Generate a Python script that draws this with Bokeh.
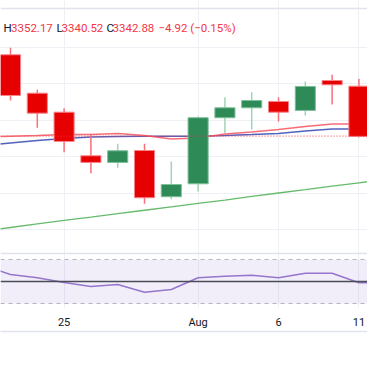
from bokeh.plotting import figure
from bokeh.models import Range1d, FixedTicker, Span, BoxAnnotation, Label, LinearAxis, ColumnDataSource
from bokeh.embed import file_html
from bokeh.resources import INLINE

# ---- data ----
dates = ["Jul 23", "Jul 24", "Jul 25", "Jul 28", "Jul 29", "Jul 30", "Jul 31", "Aug 1",
         "Aug 4", "Aug 5", "Aug 6", "Aug 7", "Aug 8", "Aug 11", "Aug 12"]
open_ = [3432.0, 3389.9, 3369.1, 3321.3, 3314.0, 3327.1, 3276.4, 3290.6,
         3363.0, 3373.9, 3380.8, 3371.0, 3403.8, 3397.6, 3342.8]
high = [3439.7, 3393.6, 3373.5, 3345.4, 3334.5, 3334.5, 3315.1, 3364.4,
        3385.5, 3391.0, 3385.5, 3402.7, 3410.1, 3405.7, 3352.17]
low = [3381.9, 3352.0, 3325.2, 3302.2, 3308.2, 3268.7, 3273.7, 3282.2,
       3346.1, 3350.1, 3358.9, 3365.5, 3377.5, 3341.4, 3340.52]
close = [3387.4, 3368.0, 3337.0, 3314.0, 3326.8, 3275.3, 3289.8, 3363.0,
         3373.9, 3381.9, 3369.1, 3397.3, 3399.1, 3342.5, 3347.5]

ma_dates = ["Jul 22"] + dates
ma_red = [3341.9, 3342.8, 3343.6, 3344.6, 3344.6, 3345.7, 3343.6, 3339.7, 3340.8,
          3345.2, 3347.4, 3350.1, 3353.4, 3356.2, 3356.2, 3351.8]
ma_blue = [3332.6, 3335.3, 3338.1, 3340.3, 3341.9, 3342.5, 3342.7, 3342.8, 3342.8,
           3343.6, 3344.6, 3345.7, 3348.5, 3350.7, 3350.7, 3348.0]
ma_green = [3238.9, 3242.7, 3246.6, 3250.4, 3254.0, 3257.8, 3261.6, 3265.4, 3269.2,
            3272.8, 3276.7, 3280.5, 3284.1, 3288.0, 3291.7, 3295.5]
rsi = [64.5, 56.4, 53.4, 49.1, 45.5, 47.3, 40.3, 42.7, 53.4,
       54.8, 55.7, 53.4, 57.5, 57.5, 48.8, 49.1]

rsi_upper, rsi_mid, rsi_lower = 70, 50, 30
last_price = 3342.88
grid_prices = [3240, 3280, 3320, 3360, 3400, 3440]
tick_labels = {"Jul 25": "25", "Aug 1": "Aug", "Aug 6": "6", "Aug 11": "11"}

header = [("H", "#131722", 3), ("3352.17", "#f23645", 10.5),
          ("L", "#131722", 56), ("3340.52", "#f23645", 61),
          ("C", "#131722", 106), ("3342.88", "#f23645", 112),
          ("\u22124.92 (\u22120.15%)", "#f23645", 158)]

# ---- derived ----
xs = list(range(len(dates)))
ma_x = [i - 1 for i in range(len(ma_dates))]
RED, GREEN = "#e60000", "#2e8b57"
up = [c >= o for o, c in zip(open_, close)]
src = ColumnDataSource(dict(
    x=xs, high=high, low=low,
    top=[max(o, c) for o, c in zip(open_, close)],
    bottom=[min(o, c) for o, c in zip(open_, close)],
    fill=[GREEN if u else RED for u in up],
    edge=["#7fbf9a" if u else "#f7838a" for u in up],
    wick=["#a3d3b5" if u else "#f7707a" for u in up],
))

p = figure(width=367, height=358, output_backend="svg", toolbar_location=None,
           x_range=Range1d(-0.373, 13.32), y_range=Range1d(3153.9, 3491.5),
           y_axis_location=None,
           min_border_left=0, min_border_right=0, min_border_top=0, min_border_bottom=50)
p.extra_y_ranges = {"rsi": Range1d(25.45, 305.45)}
p.outline_line_color = None
p.background_fill_color = "white"
p.border_fill_color = "white"

ticks = [dates.index(d) for d in tick_labels]
p.xgrid.ticker = FixedTicker(ticks=ticks)
p.ygrid.ticker = FixedTicker(ticks=grid_prices)
p.xgrid.grid_line_color = "#eef0f5"
p.ygrid.grid_line_color = "#eef0f5"

ax = p.xaxis[0]
ax.ticker = FixedTicker(ticks=ticks)
ax.major_label_overrides = {dates.index(d): lab for d, lab in tick_labels.items()}
ax.major_label_text_font = "Roboto"
ax.major_label_text_font_size = "11px"
ax.major_label_text_color = "#131722"
ax.major_tick_line_color = None
ax.minor_tick_line_color = None
ax.axis_line_color = None
ax.major_label_standoff = 1

ax2 = LinearAxis(ticker=FixedTicker(ticks=[]), axis_line_color="#e0e3eb", axis_line_width=1.5,
                 major_tick_line_color=None, minor_tick_line_color=None,
                 major_label_text_font_size="0px")
p.add_layout(ax2, "below")

# RSI pane
p.add_layout(BoxAnnotation(bottom=rsi_lower, top=rsi_upper, y_range_name="rsi",
                           fill_color="#7e57c2", fill_alpha=0.1, line_color=None, level="underlay"))
for lv in (rsi_upper, rsi_lower):
    p.add_layout(Span(location=lv, dimension="width", y_range_name="rsi",
                      line_color="#b2b5be", line_dash="4 4", line_width=1))
p.add_layout(Span(location=rsi_mid, dimension="width", y_range_name="rsi",
                  line_color="#4a4b55", line_width=1.5))
p.line(ma_x, rsi, y_range_name="rsi", line_color="#9575cd", line_width=1.5)

# pane separator and top border
p.add_layout(Span(location=rsi_upper + 5.45, dimension="width", y_range_name="rsi",
                  line_color="#e0e3eb", line_width=1.5))
p.add_layout(Span(location=3482.7, dimension="width", line_color="#e0e3eb", line_width=1.5))

# moving averages
p.line(ma_x, ma_green, line_color="#66bb6a", line_width=1.3)
p.line(ma_x, ma_blue, line_color="#3f51b5", line_width=1.5, line_alpha=0.9)
p.line(ma_x, ma_red, line_color="#f7525f", line_width=1.5, line_alpha=0.85)

# candles
p.segment(x0="x", y0="low", x1="x", y1="high", line_color="wick", line_width=1.5, source=src)
p.vbar(x="x", width=0.75, top="top", bottom="bottom", fill_color="fill",
       line_color="edge", line_width=1, source=src)

# last price line
p.add_layout(Span(location=last_price, dimension="width", line_color="#f23645",
                  line_dash="1 2", line_width=1))

# header
for txt, col, xpos in header:
    p.add_layout(Label(x=xpos, y=280.7, x_units="screen", y_units="screen", text=txt,
                       text_color=col, text_font="Roboto", text_font_size="11.5px",
                       text_baseline="alphabetic", text_align="left"))

open("out.html", "w").write(file_html(p, INLINE))
